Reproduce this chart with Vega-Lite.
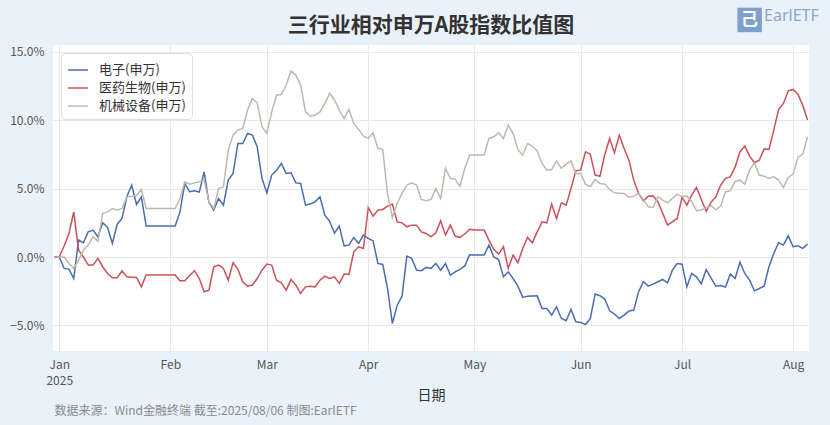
{
  "$schema": "https://vega.github.io/schema/vega-lite/v6.json",
  "width": 756,
  "height": 306,
  "autosize": {"type": "none"},
  "padding": {"left": 53, "top": 45, "right": 21, "bottom": 74},
  "background": "#e9f2fb",
  "config": {
    "font": "Noto Sans CJK SC",
    "view": {"fill": "white", "stroke": null}
  },
  "datasets": {
    "ratio": [
      {"date": "2024-12-31", "电子(申万)": 0, "医药生物(申万)": 0, "机械设备(申万)": 0},
      {"date": "2025-01-01", "电子(申万)": 0, "医药生物(申万)": 0, "机械设备(申万)": 0},
      {"date": "2025-01-02", "电子(申万)": -0.83, "医药生物(申万)": 0.8, "机械设备(申万)": 0},
      {"date": "2025-01-03", "电子(申万)": -0.88, "医药生物(申万)": 1.7, "机械设备(申万)": -0.45},
      {"date": "2025-01-06", "电子(申万)": -1.57, "医药生物(申万)": 3.3, "机械设备(申万)": -0.83},
      {"date": "2025-01-07", "电子(申万)": 1.24, "医药生物(申万)": 0.5, "机械设备(申万)": -0.23},
      {"date": "2025-01-08", "电子(申万)": 1.04, "医药生物(申万)": 0, "机械设备(申万)": 0.5},
      {"date": "2025-01-09", "电子(申万)": 1.84, "医药生物(申万)": -0.59, "机械设备(申万)": 0.87},
      {"date": "2025-01-10", "电子(申万)": 1.97, "医药生物(申万)": -0.59, "机械设备(申万)": 1.48},
      {"date": "2025-01-13", "电子(申万)": 1.48, "医药生物(申万)": -0.1, "机械设备(申万)": 1.16},
      {"date": "2025-01-14", "电子(申万)": 2.5, "医药生物(申万)": -0.71, "机械设备(申万)": 3.19},
      {"date": "2025-01-15", "电子(申万)": 2.16, "医药生物(申万)": -1.2, "机械设备(申万)": 3.3},
      {"date": "2025-01-16", "电子(申万)": 0.99, "医药生物(申万)": -1.52, "机械设备(申万)": 3.55},
      {"date": "2025-01-17", "电子(申万)": 2.4, "医药生物(申万)": -1.52, "机械设备(申万)": 3.43},
      {"date": "2025-01-20", "电子(申万)": 2.82, "医药生物(申万)": -1.0, "机械设备(申万)": 3.55},
      {"date": "2025-01-21", "电子(申万)": 4.4, "医药生物(申万)": -1.45, "机械设备(申万)": 4.4},
      {"date": "2025-01-22", "电子(申万)": 5.26, "医药生物(申万)": -1.47, "机械设备(申万)": 4.45},
      {"date": "2025-01-23", "电子(申万)": 3.84, "医药生物(申万)": -1.49, "机械设备(申万)": 4.52},
      {"date": "2025-01-24", "电子(申万)": 4.4, "医药生物(申万)": -2.18, "机械设备(申万)": 4.94},
      {"date": "2025-01-27", "电子(申万)": 2.26, "医药生物(申万)": -1.32, "机械设备(申万)": 3.55},
      {"date": "2025-01-28", "电子(申万)": 2.26, "医药生物(申万)": -1.32, "机械设备(申万)": 3.55},
      {"date": "2025-01-29", "电子(申万)": 2.26, "医药生物(申万)": -1.32, "机械设备(申万)": 3.55},
      {"date": "2025-01-30", "电子(申万)": 2.26, "医药生物(申万)": -1.32, "机械设备(申万)": 3.55},
      {"date": "2025-01-31", "电子(申万)": 2.26, "医药生物(申万)": -1.32, "机械设备(申万)": 3.55},
      {"date": "2025-02-03", "电子(申万)": 2.26, "医药生物(申万)": -1.32, "机械设备(申万)": 3.55},
      {"date": "2025-02-04", "电子(申万)": 2.26, "医药生物(申万)": -1.32, "机械设备(申万)": 3.55},
      {"date": "2025-02-05", "电子(申万)": 3.3, "医药生物(申万)": -1.74, "机械设备(申万)": 4.28},
      {"date": "2025-02-06", "电子(申万)": 5.38, "医药生物(申万)": -1.74, "机械设备(申万)": 5.5},
      {"date": "2025-02-07", "电子(申万)": 4.77, "医药生物(申万)": -1.35, "机械设备(申万)": 5.33},
      {"date": "2025-02-10", "电子(申万)": 4.84, "医药生物(申万)": -1.0, "机械设备(申万)": 5.42},
      {"date": "2025-02-11", "电子(申万)": 4.75, "医药生物(申万)": -1.57, "机械设备(申万)": 5.5},
      {"date": "2025-02-12", "电子(申万)": 6.23, "医药生物(申万)": -2.54, "机械设备(申万)": 5.62},
      {"date": "2025-02-13", "电子(申万)": 4.0, "医药生物(申万)": -2.42, "机械设备(申万)": 4.05},
      {"date": "2025-02-14", "电子(申万)": 3.43, "医药生物(申万)": -0.72, "机械设备(申万)": 3.55},
      {"date": "2025-02-17", "电子(申万)": 4.28, "医药生物(申万)": -0.59, "机械设备(申万)": 5.01},
      {"date": "2025-02-18", "电子(申万)": 3.79, "医药生物(申万)": -0.83, "机械设备(申万)": 5.13},
      {"date": "2025-02-19", "电子(申万)": 5.62, "医药生物(申万)": -1.69, "机械设备(申万)": 7.81},
      {"date": "2025-02-20", "电子(申万)": 6.11, "医药生物(申万)": -0.42, "机械设备(申万)": 8.91},
      {"date": "2025-02-21", "电子(申万)": 8.3, "医药生物(申万)": -0.9, "机械设备(申万)": 9.28},
      {"date": "2025-02-24", "电子(申万)": 8.3, "医药生物(申万)": -1.81, "机械设备(申万)": 9.4},
      {"date": "2025-02-25", "电子(申万)": 9.03, "医药生物(申万)": -2.13, "机械设备(申万)": 10.74},
      {"date": "2025-02-26", "电子(申万)": 8.91, "医药生物(申万)": -2.05, "机械设备(申万)": 11.59},
      {"date": "2025-02-27", "电子(申万)": 8.06, "医药生物(申万)": -1.57, "机械设备(申万)": 11.27},
      {"date": "2025-02-28", "电子(申万)": 5.74, "医药生物(申万)": -0.96, "机械设备(申万)": 9.52},
      {"date": "2025-03-03", "电子(申万)": 4.69, "医药生物(申万)": -0.52, "机械设备(申万)": 9.03},
      {"date": "2025-03-04", "电子(申万)": 5.99, "医药生物(申万)": -0.59, "机械设备(申万)": 10.61},
      {"date": "2025-03-05", "电子(申万)": 6.35, "医药生物(申万)": -1.69, "机械设备(申万)": 11.83},
      {"date": "2025-03-06", "电子(申万)": 6.84, "医药生物(申万)": -1.88, "机械设备(申万)": 11.88},
      {"date": "2025-03-07", "电子(申万)": 6.11, "医药生物(申万)": -2.42, "机械设备(申万)": 12.57},
      {"date": "2025-03-10", "电子(申万)": 6.16, "医药生物(申万)": -1.64, "机械设备(申万)": 13.59},
      {"date": "2025-03-11", "电子(申万)": 5.42, "医药生物(申万)": -2.05, "机械设备(申万)": 13.3},
      {"date": "2025-03-12", "电子(申万)": 5.38, "医药生物(申万)": -2.66, "机械设备(申万)": 12.57},
      {"date": "2025-03-13", "电子(申万)": 3.79, "医药生物(申万)": -2.18, "机械设备(申万)": 10.61},
      {"date": "2025-03-14", "电子(申万)": 3.87, "医药生物(申万)": -2.13, "机械设备(申万)": 10.3},
      {"date": "2025-03-17", "电子(申万)": 4.04, "医药生物(申万)": -2.18, "机械设备(申万)": 10.37},
      {"date": "2025-03-18", "电子(申万)": 4.4, "医药生物(申万)": -1.69, "机械设备(申万)": 10.61},
      {"date": "2025-03-19", "电子(申万)": 3.06, "医药生物(申万)": -1.4, "机械设备(申万)": 11.23},
      {"date": "2025-03-20", "电子(申万)": 2.63, "医药生物(申万)": -1.57, "机械设备(申万)": 11.96},
      {"date": "2025-03-21", "电子(申万)": 1.75, "医药生物(申万)": -1.45, "机械设备(申万)": 11.5},
      {"date": "2025-03-24", "电子(申万)": 2.26, "医药生物(申万)": -1.93, "机械设备(申万)": 10.74},
      {"date": "2025-03-25", "电子(申万)": 0.82, "医药生物(申万)": -1.25, "机械设备(申万)": 10.13},
      {"date": "2025-03-26", "电子(申万)": 0.87, "医药生物(申万)": -1.27, "机械设备(申万)": 10.79},
      {"date": "2025-03-27", "电子(申万)": 1.43, "医药生物(申万)": 0.38, "机械设备(申万)": 9.77},
      {"date": "2025-03-28", "电子(申万)": 0.99, "医药生物(申万)": 0.75, "机械设备(申万)": 9.33},
      {"date": "2025-03-31", "电子(申万)": 1.6, "医药生物(申万)": 0.63, "机械设备(申万)": 8.84},
      {"date": "2025-04-01", "电子(申万)": 1.36, "医药生物(申万)": 3.62, "机械设备(申万)": 8.67},
      {"date": "2025-04-02", "电子(申万)": 1.18, "医药生物(申万)": 2.99, "机械设备(申万)": 9.08},
      {"date": "2025-04-03", "电子(申万)": -0.47, "医药生物(申万)": 3.43, "机械设备(申万)": 7.94},
      {"date": "2025-04-04", "电子(申万)": -0.54, "医药生物(申万)": 3.48, "机械设备(申万)": 7.87},
      {"date": "2025-04-07", "电子(申万)": -2.3, "医药生物(申万)": 3.72, "机械设备(申万)": 4.6},
      {"date": "2025-04-08", "电子(申万)": -4.86, "医药生物(申万)": 3.87, "机械设备(申万)": 2.89},
      {"date": "2025-04-09", "电子(申万)": -3.52, "医药生物(申万)": 2.57, "机械设备(申万)": 3.92},
      {"date": "2025-04-10", "电子(申万)": -2.86, "医药生物(申万)": 2.5, "机械设备(申万)": 4.65},
      {"date": "2025-04-11", "电子(申万)": 0.07, "医药生物(申万)": 2.21, "机械设备(申万)": 5.26},
      {"date": "2025-04-14", "电子(申万)": -0.1, "医药生物(申万)": 2.33, "机械设备(申万)": 5.42},
      {"date": "2025-04-15", "电子(申万)": -0.96, "医药生物(申万)": 2.33, "机械设备(申万)": 5.26},
      {"date": "2025-04-16", "电子(申万)": -1.0, "医药生物(申万)": 1.84, "机械设备(申万)": 4.21},
      {"date": "2025-04-17", "电子(申万)": -0.76, "医药生物(申万)": 1.72, "机械设备(申万)": 4.11},
      {"date": "2025-04-18", "电子(申万)": -0.83, "医药生物(申万)": 1.48, "机械设备(申万)": 4.21},
      {"date": "2025-04-21", "电子(申万)": -0.47, "医药生物(申万)": 1.77, "机械设备(申万)": 5.01},
      {"date": "2025-04-22", "电子(申万)": -0.96, "医药生物(申万)": 2.65, "机械设备(申万)": 4.28},
      {"date": "2025-04-23", "电子(申万)": -0.47, "医药生物(申万)": 1.6, "机械设备(申万)": 6.48},
      {"date": "2025-04-24", "电子(申万)": -1.32, "医药生物(申万)": 2.33, "机械设备(申万)": 5.75},
      {"date": "2025-04-25", "电子(申万)": -1.08, "医药生物(申万)": 1.53, "机械设备(申万)": 5.69},
      {"date": "2025-04-28", "电子(申万)": -0.91, "医药生物(申万)": 1.43, "机械设备(申万)": 5.18},
      {"date": "2025-04-29", "电子(申万)": -0.65, "医药生物(申万)": 1.68, "机械设备(申万)": 6.48},
      {"date": "2025-04-30", "电子(申万)": 0.17, "医药生物(申万)": 2.03, "机械设备(申万)": 7.45},
      {"date": "2025-05-01", "电子(申万)": 0.14, "医药生物(申万)": 1.97, "机械设备(申万)": 7.45},
      {"date": "2025-05-02", "电子(申万)": 0.14, "医药生物(申万)": 1.97, "机械设备(申万)": 7.45},
      {"date": "2025-05-05", "电子(申万)": 0.14, "医药生物(申万)": 1.97, "机械设备(申万)": 7.45},
      {"date": "2025-05-06", "电子(申万)": 0.87, "医药生物(申万)": 1.24, "机械设备(申万)": 8.67},
      {"date": "2025-05-07", "电子(申万)": 0.01, "医药生物(申万)": 0.56, "机械设备(申万)": 8.79},
      {"date": "2025-05-08", "电子(申万)": -0.18, "医药生物(申万)": 0.21, "机械设备(申万)": 9.08},
      {"date": "2025-05-09", "电子(申万)": -1.45, "医药生物(申万)": 0.75, "机械设备(申万)": 8.67},
      {"date": "2025-05-12", "电子(申万)": -1.08, "医药生物(申万)": -0.83, "机械设备(申万)": 9.64},
      {"date": "2025-05-13", "电子(申万)": -1.57, "医药生物(申万)": 0.14, "机械设备(申万)": 9.03},
      {"date": "2025-05-14", "电子(申万)": -2.13, "医药生物(申万)": -0.42, "机械设备(申万)": 7.87},
      {"date": "2025-05-15", "电子(申万)": -2.95, "医药生物(申万)": 0.63, "机械设备(申万)": 7.45},
      {"date": "2025-05-16", "电子(申万)": -2.86, "医药生物(申万)": 1.43, "机械设备(申万)": 8.3},
      {"date": "2025-05-19", "电子(申万)": -2.85, "医药生物(申万)": 1.04, "机械设备(申万)": 8.11},
      {"date": "2025-05-20", "电子(申万)": -2.84, "医药生物(申万)": 1.84, "机械设备(申万)": 7.76},
      {"date": "2025-05-21", "电子(申万)": -3.76, "医药生物(申万)": 2.57, "机械设备(申万)": 6.84},
      {"date": "2025-05-22", "电子(申万)": -3.76, "医药生物(申万)": 2.5, "机械设备(申万)": 6.35},
      {"date": "2025-05-23", "电子(申万)": -4.25, "医药生物(申万)": 3.87, "机械设备(申万)": 6.4},
      {"date": "2025-05-26", "电子(申万)": -3.64, "医药生物(申万)": 2.82, "机械设备(申万)": 7.03},
      {"date": "2025-05-27", "电子(申万)": -4.49, "医药生物(申万)": 3.96, "机械设备(申万)": 6.48},
      {"date": "2025-05-28", "电子(申万)": -4.66, "医药生物(申万)": 3.79, "机械设备(申万)": 6.79},
      {"date": "2025-05-29", "电子(申万)": -3.83, "医药生物(申万)": 5.01, "机械设备(申万)": 7.03},
      {"date": "2025-05-30", "电子(申万)": -4.74, "医药生物(申万)": 6.3, "机械设备(申万)": 6.11},
      {"date": "2025-06-02", "电子(申万)": -4.78, "医药生物(申万)": 6.35, "机械设备(申万)": 6.11},
      {"date": "2025-06-03", "电子(申万)": -4.93, "医药生物(申万)": 7.69, "机械设备(申万)": 5.33},
      {"date": "2025-06-04", "电子(申万)": -4.49, "医药生物(申万)": 7.52, "机械设备(申万)": 5.13},
      {"date": "2025-06-05", "电子(申万)": -2.71, "医药生物(申万)": 5.99, "机械设备(申万)": 5.67},
      {"date": "2025-06-06", "电子(申万)": -2.83, "医药生物(申万)": 5.9, "机械设备(申万)": 5.38},
      {"date": "2025-06-09", "电子(申万)": -3.07, "医药生物(申万)": 7.5, "机械设备(申万)": 5.33},
      {"date": "2025-06-10", "电子(申万)": -3.93, "医药生物(申万)": 8.67, "机械设备(申万)": 4.94},
      {"date": "2025-06-11", "电子(申万)": -4.17, "医药生物(申万)": 7.62, "机械设备(申万)": 4.69},
      {"date": "2025-06-12", "电子(申万)": -4.49, "医药生物(申万)": 8.91, "机械设备(申万)": 4.67},
      {"date": "2025-06-13", "电子(申万)": -4.25, "医药生物(申万)": 7.94, "机械设备(申万)": 4.65},
      {"date": "2025-06-16", "电子(申万)": -3.95, "医药生物(申万)": 7.08, "机械设备(申万)": 4.36},
      {"date": "2025-06-17", "电子(申万)": -3.88, "医药生物(申万)": 5.62, "机械设备(申万)": 4.45},
      {"date": "2025-06-18", "电子(申万)": -2.54, "医药生物(申万)": 4.65, "机械设备(申万)": 4.65},
      {"date": "2025-06-19", "电子(申万)": -1.81, "医药生物(申万)": 4.11, "机械设备(申万)": 4.21},
      {"date": "2025-06-20", "电子(申万)": -2.13, "医药生物(申万)": 4.45, "机械设备(申万)": 3.67},
      {"date": "2025-06-23", "电子(申万)": -1.98, "医药生物(申万)": 4.47, "机械设备(申万)": 3.62},
      {"date": "2025-06-24", "电子(申万)": -1.81, "医药生物(申万)": 4.04, "机械设备(申万)": 4.4},
      {"date": "2025-06-25", "电子(申万)": -1.64, "医药生物(申万)": 3.19, "机械设备(申万)": 4.16},
      {"date": "2025-06-26", "电子(申万)": -1.89, "医药生物(申万)": 2.33, "机械设备(申万)": 3.96},
      {"date": "2025-06-27", "电子(申万)": -0.96, "医药生物(申万)": 2.57, "机械设备(申万)": 4.28},
      {"date": "2025-06-30", "电子(申万)": -0.47, "医药生物(申万)": 2.82, "机械设备(申万)": 4.6},
      {"date": "2025-07-01", "电子(申万)": -0.52, "医药生物(申万)": 4.36, "机械设备(申万)": 4.4},
      {"date": "2025-07-02", "电子(申万)": -2.18, "医药生物(申万)": 3.79, "机械设备(申万)": 4.45},
      {"date": "2025-07-03", "电子(申万)": -1.2, "医药生物(申万)": 4.52, "机械设备(申万)": 4.04},
      {"date": "2025-07-04", "电子(申万)": -1.45, "医药生物(申万)": 5.09, "机械设备(申万)": 3.38},
      {"date": "2025-07-07", "电子(申万)": -1.96, "医药生物(申万)": 4.2, "机械设备(申万)": 3.43},
      {"date": "2025-07-08", "电子(申万)": -0.92, "医药生物(申万)": 3.35, "机械设备(申万)": 3.6},
      {"date": "2025-07-09", "电子(申万)": -1.52, "医药生物(申万)": 4.0, "机械设备(申万)": 3.75},
      {"date": "2025-07-10", "电子(申万)": -2.13, "医药生物(申万)": 4.4, "机械设备(申万)": 3.45},
      {"date": "2025-07-11", "电子(申万)": -2.08, "医药生物(申万)": 5.26, "机械设备(申万)": 3.72},
      {"date": "2025-07-14", "电子(申万)": -2.19, "医药生物(申万)": 5.75, "机械设备(申万)": 4.77},
      {"date": "2025-07-15", "电子(申万)": -1.25, "医药生物(申万)": 5.86, "机械设备(申万)": 4.84},
      {"date": "2025-07-16", "电子(申万)": -1.57, "医药生物(申万)": 6.59, "机械设备(申万)": 5.53},
      {"date": "2025-07-17", "电子(申万)": -0.38, "医药生物(申万)": 7.7, "机械设备(申万)": 5.62},
      {"date": "2025-07-18", "电子(申万)": -1.2, "医药生物(申万)": 8.11, "机械设备(申万)": 5.33},
      {"date": "2025-07-21", "电子(申万)": -1.69, "医药生物(申万)": 7.38, "机械设备(申万)": 6.35},
      {"date": "2025-07-22", "电子(申万)": -2.47, "医药生物(申万)": 6.89, "机械设备(申万)": 6.89},
      {"date": "2025-07-23", "电子(申万)": -2.3, "医药生物(申万)": 7.08, "机械设备(申万)": 5.99},
      {"date": "2025-07-24", "电子(申万)": -2.13, "医药生物(申万)": 7.89, "机械设备(申万)": 5.91},
      {"date": "2025-07-25", "电子(申万)": -0.71, "医药生物(申万)": 7.87, "机械设备(申万)": 5.75},
      {"date": "2025-07-28", "电子(申万)": 0.26, "医药生物(申万)": 9.28, "机械设备(申万)": 5.86},
      {"date": "2025-07-29", "电子(申万)": 1.04, "医药生物(申万)": 10.79, "机械设备(申万)": 5.62},
      {"date": "2025-07-30", "电子(申万)": 0.87, "医药生物(申万)": 11.23, "机械设备(申万)": 5.09},
      {"date": "2025-07-31", "电子(申万)": 1.55, "医药生物(申万)": 12.15, "机械设备(申万)": 5.82},
      {"date": "2025-08-01", "电子(申万)": 0.75, "医药生物(申万)": 12.25, "机械设备(申万)": 6.06},
      {"date": "2025-08-04", "电子(申万)": 0.82, "医药生物(申万)": 11.91, "机械设备(申万)": 7.28},
      {"date": "2025-08-05", "电子(申万)": 0.63, "医药生物(申万)": 11.1, "机械设备(申万)": 7.52},
      {"date": "2025-08-06", "电子(申万)": 0.94, "医药生物(申万)": 10.01, "机械设备(申万)": 8.79}
    ]
  },
  "layer": [
    {
      "data": {"name": "ratio"},
      "transform": [
        {"fold": ["电子(申万)", "医药生物(申万)", "机械设备(申万)"], "as": ["series", "value"]}
      ],
      "mark": {"type": "line", "strokeWidth": 1.5},
      "encoding": {
        "x": {
          "field": "date",
          "type": "ordinal",
          "scale": {"type": "point", "padding": 0.3},
          "axis": {
            "values": ["2025-01-01", "2025-02-03", "2025-03-03", "2025-04-01", "2025-05-01", "2025-06-02", "2025-07-01", "2025-08-01"],
            "labelExpr": "{'2025-01-01': ['Jan', '2025'], '2025-02-03': 'Feb', '2025-03-03': 'Mar', '2025-04-01': 'Apr', '2025-05-01': 'May', '2025-06-02': 'Jun', '2025-07-01': 'Jul', '2025-08-01': 'Aug'}[datum.value]",
            "labelAngle": 0,
            "labelPadding": 8,
            "labelFontSize": 12,
            "labelColor": "#555555",
            "labelLineHeight": 16,
            "grid": true,
            "gridColor": "#e8e8e8",
            "ticks": false,
            "domain": false,
            "title": "日期",
            "titleFontSize": 14,
            "titleFontWeight": "normal",
            "titleColor": "#333333",
            "titlePadding": 2
          }
        },
        "y": {
          "field": "value",
          "type": "quantitative",
          "scale": {"domain": [-6.87, 15.5], "nice": false, "zero": false},
          "axis": {
            "values": [-5, -2.5, 0, 2.5, 5, 7.5, 10, 12.5, 15],
            "labelExpr": "format(datum.value, '.1f') + '%'",
            "labelPadding": 9,
            "labelFontSize": 12,
            "labelColor": "#555555",
            "grid": true,
            "gridColor": "#e8e8e8",
            "ticks": false,
            "domain": false,
            "title": null
          }
        },
        "color": {
          "field": "series",
          "type": "nominal",
          "scale": {
            "domain": ["电子(申万)", "医药生物(申万)", "机械设备(申万)"],
            "range": ["#4a6db0", "#c9515a", "#bfb8ae"]
          },
          "legend": {
            "title": null,
            "orient": "top-left",
            "offset": 8,
            "symbolType": "stroke",
            "symbolSize": 400,
            "symbolStrokeWidth": 1.5,
            "labelFontSize": 13,
            "labelColor": "#333333",
            "labelOffset": 10,
            "rowPadding": 0,
            "padding": 6,
            "fillColor": "white",
            "strokeColor": "#dddddd",
            "cornerRadius": 4
          }
        }
      }
    },
    {
      "data": {"values": [{}]},
      "mark": {
        "type": "text",
        "text": "三行业相对申万A股指数比值图",
        "align": "center",
        "baseline": "middle",
        "fontSize": 21,
        "fontWeight": "bold",
        "color": "#333333"
      },
      "encoding": {
        "x": {"datum": "2025-04-18", "type": "ordinal", "title": "日期"},
        "y": {"datum": 16.89, "type": "quantitative", "title": null}
      }
    },
    {
      "data": {"values": [{}]},
      "mark": {
        "type": "text",
        "text": "数据来源：Wind金融终端 截至:2025/08/06 制图:EarlETF",
        "align": "left",
        "baseline": "middle",
        "fontSize": 12,
        "color": "#8a8a8a"
      },
      "encoding": {
        "x": {"datum": "2024-12-31", "type": "ordinal", "title": "日期"},
        "y": {"datum": -11.26, "type": "quantitative", "title": null}
      }
    },
    {
      "data": {"values": [{}]},
      "mark": {"type": "point", "shape": "square", "filled": true, "size": 600, "color": "#7f9fcc", "opacity": 1},
      "encoding": {
        "x": {"datum": "2025-07-21", "type": "ordinal", "title": "日期"},
        "y": {"datum": 17.33, "type": "quantitative", "title": null}
      }
    },
    {
      "data": {"values": [{}]},
      "mark": {"type": "text", "text": "己", "align": "center", "baseline": "middle", "fontSize": 17, "fontWeight": "bold", "color": "white"},
      "encoding": {
        "x": {"datum": "2025-07-21", "type": "ordinal", "title": "日期"},
        "y": {"datum": 17.33, "type": "quantitative", "title": null}
      }
    },
    {
      "data": {"values": [{}]},
      "mark": {"type": "text", "text": "EarlETF", "align": "left", "baseline": "middle", "fontSize": 16, "color": "#8aa4c8", "font": "Noto Sans"},
      "encoding": {
        "x": {"datum": "2025-07-24", "type": "ordinal", "title": "日期"},
        "y": {"datum": 17.62, "type": "quantitative", "title": null}
      }
    }
  ]
}
